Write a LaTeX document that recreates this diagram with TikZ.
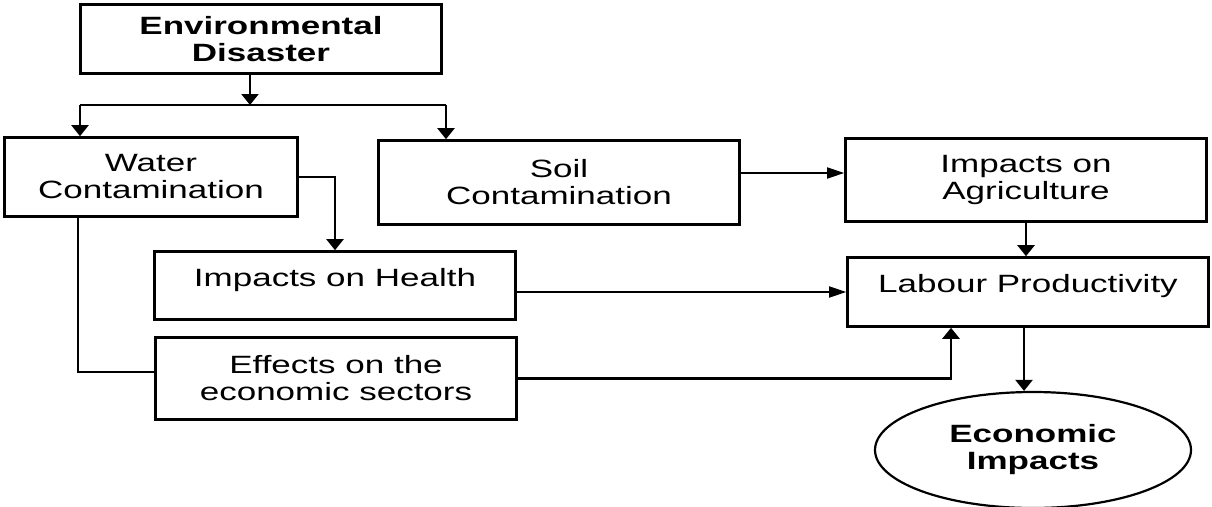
\documentclass[tikz,border=0pt]{standalone}
\usepackage{fontspec}
\setmainfont{Liberation Sans}[FakeStretch=1.4]
\usetikzlibrary{arrows.meta,shapes.geometric}

\begin{document}
\begin{tikzpicture}
  [x=1pt,y=-1pt,
   every node/.style={draw,line width=2.6pt,align=center,inner sep=0pt,
     font=\fontsize{25}{27}\selectfont},
   box/.style={rectangle,minimum width=361pt},
   oval/.style={ellipse,line width=2.2pt,minimum width=316pt,minimum height=116pt},
   line/.style={line width=2.2pt},
   arrv/.style={line,-{Triangle[length=11pt,width=17pt]}},
   arrh/.style={line width=1.8pt,-{Triangle[length=17pt,width=11pt]}}]
  \useasboundingbox (0,0) rectangle (1212,506);
  \node[box,minimum height=69pt] (nd) at (261,39) {\textbf{Environmental}\\\textbf{Disaster}};
  \node[box,minimum width=293pt,minimum height=79pt] (nw) at (151,177) {Water\\Contamination};
  \node[box,minimum height=84pt] (ns) at (559,182.5) {Soil\\Contamination};
  \node[box,minimum height=83pt] (na) at (1026,180) {Impacts on\\Agriculture};
  \node[box,minimum height=68pt,text depth=17pt] (nh) at (335,285.5) {Impacts on Health};
  \node[box,minimum height=69pt,text depth=17pt] (nl) at (1028,292) {Labour Productivity};
  \node[box,minimum height=82pt] (ne) at (336,378.5) {Effects on the\\economic sectors};
  \node[oval] (ni) at (1033,450) {\textbf{Economic}\\\textbf{Impacts}};
  \coordinate (jd) at (250,105);
  \coordinate (jl) at (80,105);
  \coordinate (jr) at (446,105);
  \coordinate (jw) at (78,372);
  % split below the disaster box
  \draw[arrv] (jd |- nd.south) -- (jd);
  \draw[line] (jl) -- (jr);
  \foreach \from/\to in {jl/nw,jr/ns}
    \draw[arrv] (\from) -- (\from |- \to.north);
  % water branches
  \draw[arrv] (nw.east) -| (nh.north);
  \draw[line] (jw |- nw.south) -- (jw) -- (jw -| ne.west);
  % right column
  \draw[arrh] ([yshift=9.5pt]ns.east) -- ([yshift=9.5pt]ns.east -| na.west);
  \draw[arrv] (na.south) -- (na.south |- nl.north);
  \draw[arrh] (nh.east |- nl.west) -- (nl.west);
  \draw[arrv,line width=2.8pt] (ne.east) -| ([xshift=-77pt]nl.south);
  \draw[arrv] ([xshift=-4pt]nl.south) -- ([xshift=-4pt]nl.south |- ni.north);
\end{tikzpicture}
\end{document}
